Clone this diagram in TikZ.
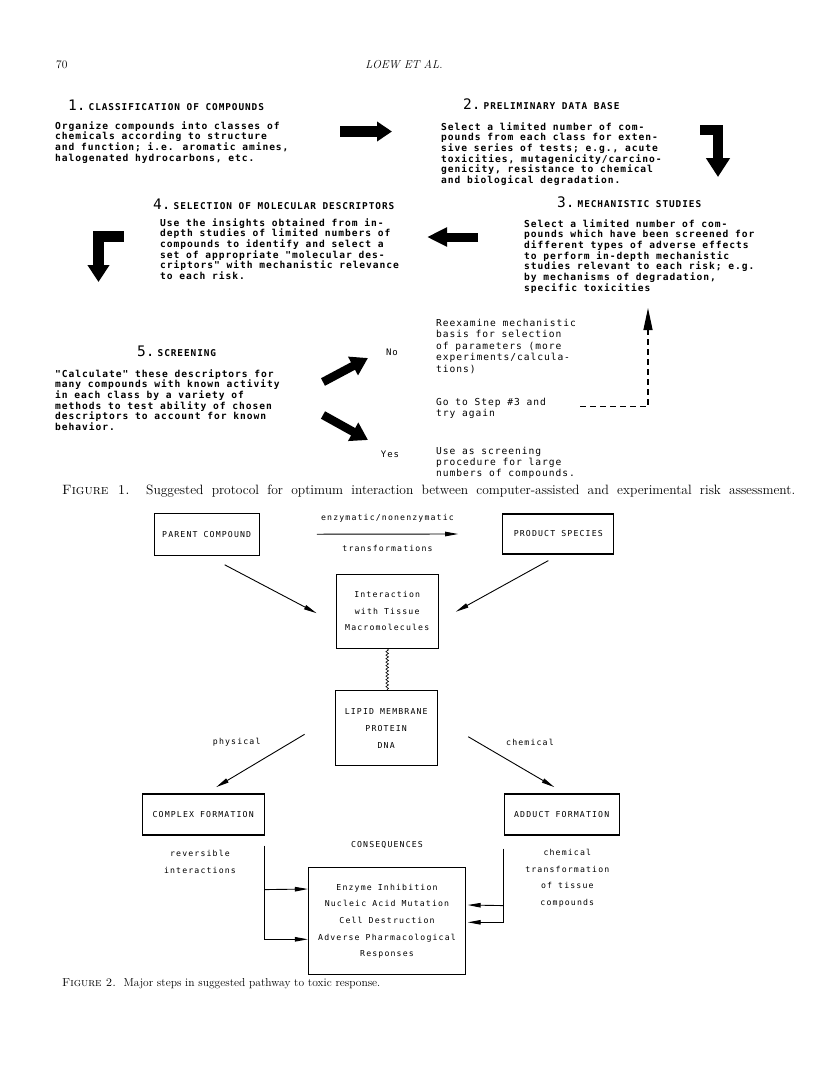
\documentclass[tikz,border=0pt]{standalone}
\usepackage{fontspec}
\usepackage{tikz}
\usetikzlibrary{positioning, arrows.meta, calc, decorations.pathmorphing}
\newfontfamily\typefont[LetterSpace=10]{DejaVu Sans Mono}
\newfontfamily\digitfont{DejaVu Sans Mono}
\newfontfamily\plotfont[LetterSpace=14]{DejaVu Sans Mono}
\newcommand\cifra[1]{{\digitfont\mdseries\fontsize{14.5}{14.5}\selectfont#1}\hspace{3pt}}
\tikzset{
	% testo di pagina (serif)
	serif/.style={inner sep=0pt, font=\rmfamily\fontsize{11.5}{13}\selectfont},
	% titolo di un passo (figura 1)
	titolo/.style={inner sep=0pt, anchor=base west, font=\typefont\bfseries\fontsize{9.4}{10}\selectfont},
	% testo a macchina (figura 1)
	testo/.style={inner sep=0pt, anchor=north west, align=left,
	              font=\typefont\bfseries\fontsize{9.6}{10.7}\selectfont},
	nota/.style={inner sep=0pt, anchor=north west, align=left,
	             font=\typefont\fontsize{9.6}{11.4}\selectfont},
	% freccia grossa piena
	grossa/.style={line width=10pt, -{Triangle[length=16pt, width=20pt]}},
	% ritorno tratteggiato
	ritorno/.style={line width=1.2pt, dash pattern=on 6pt off 4pt, -{Triangle[length=22pt, width=9pt]}},
	% riquadri della figura 2
	scatola/.style={draw, line width=1.2pt, align=center, inner sep=2pt,
	                font=\plotfont\fontsize{8.2}{16.7}\selectfont},
	etichetta/.style={inner sep=0pt, align=center, font=\plotfont\fontsize{8.2}{16.7}\selectfont},
	freccia/.style={line width=0.9pt, -{Triangle[length=13pt, width=4.5pt]}},
	onda/.style={line width=0.6pt, decorate, decoration={snake, segment length=3.5pt, amplitude=1.3pt}},
}

\begin{document}
\begin{tikzpicture}[x=1pt, y=-1pt]
    \useasboundingbox (0,0) rectangle (816,1080);
    % testata
    \node[serif, anchor=west] (pagina) at (56,65) {70};
    \node[serif] (autori) at (404,65) {\itshape LOEW ET AL.};
    % figura 1: titoli dei passi
    \node[titolo] (t1) at (68,110.5) {\cifra{1.}CLASSIFICATION OF COMPOUNDS};
    \node[titolo] (t2) at (463,109) {\cifra{2.}PRELIMINARY DATA BASE};
    \node[titolo] (t3) at (557,207) {\cifra{3.}MECHANISTIC STUDIES};
    \node[titolo] (t4) at (153,209) {\cifra{4.}SELECTION OF MOLECULAR DESCRIPTORS};
    \node[titolo] (t5) at (137,356.5) {\cifra{5.}SCREENING};
    % figura 1: testi
    \node[testo] (b1) at (55,121) {Organize compounds into classes of\\chemicals according to structure\\and function; i.e. aromatic amines,\\halogenated hydrocarbons, etc.};
    \node[testo] (b2) at (441,122) {Select a limited number of com-\\pounds from each class for exten-\\sive series of tests; e.g., acute\\toxicities, mutagenicity/carcino-\\genicity, resistance to chemical\\and biological degradation.};
    \node[testo] (b3) at (524,219) {Select a limited number of com-\\pounds which have been screened for\\different types of adverse effects\\to perform in-depth mechanistic\\studies relevant to each risk; e.g.\\by mechanisms of degradation,\\specific toxicities};
    \node[testo] (b4) at (160,218) {Use the insights obtained from in-\\depth studies of limited numbers of\\compounds to identify and select a\\set of appropriate "molecular des-\\criptors" with mechanistic relevance\\to each risk.};
    \node[testo] (b5) at (55,369) {"Calculate" these descriptors for\\many compounds with known activity\\in each class by a variety of\\methods to test ability of chosen\\descriptors to account for known\\behavior.};
    \node[nota] (r1) at (436,319) {Reexamine mechanistic\\basis for selection\\of parameters (more\\experiments/calcula-\\tions)};
    \node[nota] (r2) at (436,398) {Go to Step \#3 and\\try again};
    \node[nota] (r3) at (436,446.5) {Use as screening\\procedure for large\\numbers of compounds.};
    \node[inner sep=0pt, font=\typefont\fontsize{9}{10}\selectfont] (no) at (392,352) {No};
    \node[inner sep=0pt, font=\typefont\fontsize{9}{10}\selectfont] (si) at (390,454) {Yes};
    % figura 1: frecce grosse
    \coordinate (a12) at (340,131.5);
    \coordinate (p12) at (392,131.5);
    \coordinate (a23) at (700,130);
    \coordinate (p23) at (718,177);
    \coordinate (a34) at (478,237);
    \coordinate (p34) at (427,237);
    \coordinate (a45) at (123.5,236.2);
    \coordinate (p45) at (98.5,282);
    \coordinate (ano) at (323,382);
    \coordinate (pno) at (368,358);
    \coordinate (asi) at (323,415);
    \coordinate (psi) at (368,440);
    \draw[grossa, line width=11.5pt, -{Triangle[length=15pt, width=19pt]}] (a12) -- (p12);
    \draw[grossa, -{Triangle[length=19pt, width=23pt]}] (a23) -| (p23);
    \draw[grossa, line width=9pt, -{Triangle[length=20pt, width=18pt]}] (a34) -- (p34);
    \draw[grossa, line width=11pt, -{Triangle[length=17pt, width=21pt]}] (a45) -| (p45);
    \draw[grossa, line width=8.5pt, -{Triangle[length=17pt, width=20pt]}] (ano) -- (pno);
    \draw[grossa, line width=8.5pt, -{Triangle[length=17pt, width=20pt]}] (asi) -- (psi);
    % ritorno al passo 3
    \coordinate (torna) at (580,406.7);
    \coordinate (punta3) at (648,308);
    \draw[ritorno] (torna) -| (punta3);
    \node[serif, anchor=west, font=\rmfamily\fontsize{13.5}{15}\selectfont] (cap1) at (62,491) {\makebox[733pt][s]{\textsc{Figure 1.}\ \ Suggested protocol for optimum interaction between computer-assisted and experimental risk assessment.}};
    % figura 2: riquadri
    \node[scatola, minimum width=105pt, minimum height=42pt] (parent) at (206.7,534.2) {PARENT COMPOUND};
    \node[scatola, minimum width=111pt, minimum height=40pt] (product) at (558.3,534) {PRODUCT SPECIES};
    \node[scatola, minimum width=102pt, minimum height=74pt] (interact) at (387.2,611.2) {Interaction\\with Tissue\\Macromolecules};
    \node[scatola, minimum width=102pt, minimum height=75pt] (lipid) at (386.2,728.3) {LIPID MEMBRANE\\PROTEIN\\DNA};
    \node[scatola, minimum width=122pt, minimum height=41pt] (complex) at (203.2,814.5) {COMPLEX FORMATION};
    \node[scatola, minimum width=115pt, minimum height=41pt] (adduct) at (561.7,814.5) {ADDUCT FORMATION};
    \node[scatola, minimum width=157pt, minimum height=107pt] (conseq) at (387,921.3) {Enzyme Inhibition\\Nucleic Acid Mutation\\Cell Destruction\\Adverse Pharmacological\\Responses};
    % figura 2: etichette
    \node[etichetta, above=18pt of conseq] (titcons) {CONSEQUENCES};
    \node[etichetta] (fisico) at (236.7,742.7) {physical};
    \node[etichetta] (chimico) at (530,742.7) {chemical};
    \node[etichetta] (reversibile) at (200,861.7) {reversible\\interactions};
    \node[etichetta] (trasforma) at (567.3,878.3) {chemical\\transformation\\of tissue\\compounds};
    % figura 2: collegamenti
    \draw[freccia] ($(parent.east)+(57,0)$) -- node[etichetta, above=11pt]{enzymatic/nonenzymatic} node[etichetta, below=11pt]{transformations} ($(product.west)+(-44,0)$);
    \draw[freccia] ($(parent.south)+(18,9)$) -- ($(interact.west)+(-19,2)$);
    \draw[freccia] ($(product.south)+(-10,6)$) -- ($(interact.east)+(17,0.5)$);
    \draw[onda] (interact.south) -- (interact.south |- lipid.north);
    \draw[freccia] ($(lipid.west)+(-30,6)$) -- ($(complex.north)+(13,-6.3)$);
    \draw[freccia] ($(lipid.east)+(30.4,8.4)$) -- ($(adduct.north)+(-7.4,-6.3)$);
    \draw[freccia] ($(complex.south east)+(0,10)$) |- ($(conseq.west)+(0,18)$);
    \draw[freccia] ($(complex.south east)+(0,54)$) -- ($(conseq.west)+(0,-32.3)$);
    \draw[freccia] ($(adduct.south west)+(0,13)$) |- ($(conseq.east)+(1.6,1)$);
    \draw[freccia] ($(adduct.south west)+(0,70)$) -- ($(conseq.east)+(1.6,-16.3)$);
    \node[serif, anchor=west] (cap2) at (62,984) {\textsc{Figure 2.}\ \ Major steps in suggested pathway to toxic response.};
\end{tikzpicture}
\end{document}
